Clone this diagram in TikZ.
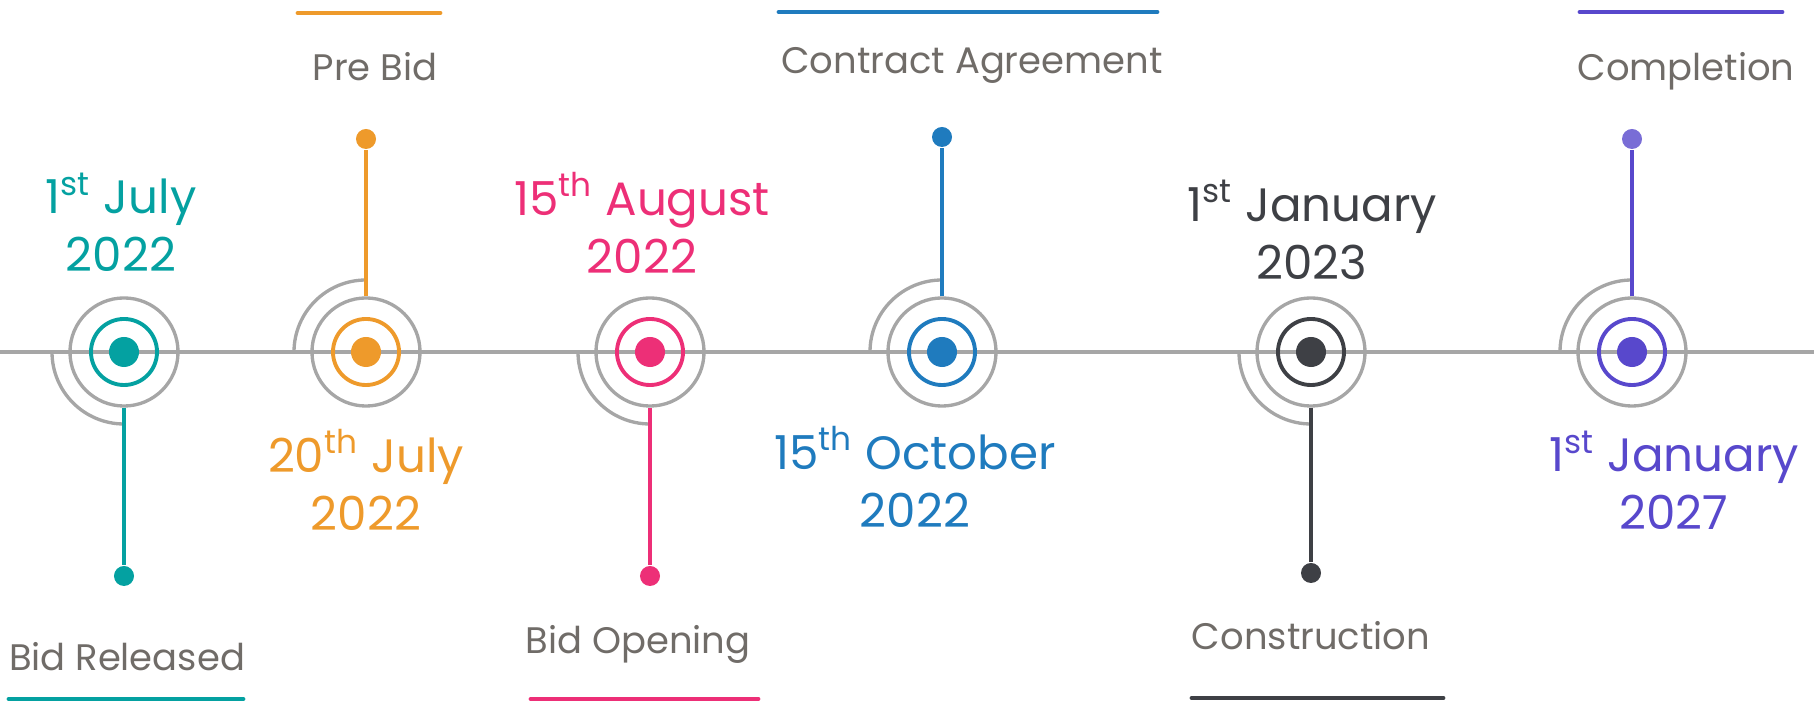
\documentclass[tikz,border=0pt]{standalone}
\usepackage{fontspec}
\setmainfont{Poppins}
\usepackage{tikz}
\usetikzlibrary{positioning}
\usetikzlibrary{calc}

\definecolor{tealc}{RGB}{4,161,161}
\definecolor{orangec}{RGB}{238,154,43}
\definecolor{pinkc}{RGB}{237,47,119}
\definecolor{bluec}{RGB}{31,123,190}
\definecolor{darkc}{RGB}{62,64,69}
\definecolor{purplec}{RGB}{88,72,204}
\definecolor{linegray}{RGB}{166,166,166}
\definecolor{textgray}{RGB}{112,108,104}

\begin{document}
\begin{tikzpicture}[x=0.01cm, y=0.01cm,
    ring/.style={circle, draw=linegray, line width=0.95pt, minimum size=1.08cm, inner sep=0pt},
    core/.style={circle, line width=1.1pt, minimum size=0.66cm, inner sep=0pt},
    hub/.style={circle, minimum size=0.30cm, inner sep=0pt},
    enddot/.style={circle, minimum size=0.20cm, inner sep=0pt},
    quarter/.style={draw=linegray, line width=0.95pt},
    stem/.style={line width=1pt},
    bar/.style={line width=1.4pt, line cap=round},
    msname/.style={text=textgray, anchor=base, font=\fontsize{10.5}{12}\selectfont},
    msdate/.style={align=center, font=\fontsize{13.3}{16.5}\selectfont}]

    \useasboundingbox (0,0) rectangle (1814,703);

    % timeline
    \coordinate (start) at (0,351);
    \coordinate (end) at (1814,351);
    \draw[linegray, line width=0.95pt] (start) -- (end);

    % bid released
    \coordinate (released) at (124,351);
    \node[ring] (released-ring) at (released) {};
    \node[core, draw=tealc] (released-core) at (released) {};
    \node[hub, fill=tealc] (released-hub) at (released) {};
    \draw[quarter] (released) ++(-72,0) arc[start angle=180, end angle=270, radius=72];
    \node[enddot, fill=tealc] (released-dot) at (124,127) {};
    \draw[stem, tealc] (released-ring.south) -- (released-dot);
    \node[msdate, text=tealc] (released-date) at (121,481) {1\textsuperscript{st} July\\2022};
    \node[msname] (released-name) at (127,32) {Bid Released};
    \draw[bar, tealc] (9,4) -- (243,4);

    % pre bid
    \coordinate (prebid) at (366,351);
    \node[ring] (prebid-ring) at (prebid) {};
    \node[core, draw=orangec] (prebid-core) at (prebid) {};
    \node[hub, fill=orangec] (prebid-hub) at (prebid) {};
    \draw[quarter] (prebid) ++(0,72) arc[start angle=90, end angle=180, radius=72];
    \node[enddot, fill=orangec] (prebid-dot) at (366,564) {};
    \draw[stem, orangec] (prebid-ring.north) -- (prebid-dot);
    \node[msdate, text=orangec] (prebid-date) at (366,223) {20\textsuperscript{th} July\\2022};
    \node[msname] (prebid-name) at (375,622) {Pre Bid};
    \draw[bar, orangec] (298,690) -- (440,690);

    % bid opening
    \coordinate (opening) at (650,351);
    \node[ring] (opening-ring) at (opening) {};
    \node[core, draw=pinkc] (opening-core) at (opening) {};
    \node[hub, fill=pinkc] (opening-hub) at (opening) {};
    \draw[quarter] (opening) ++(-72,0) arc[start angle=180, end angle=270, radius=72];
    \node[enddot, fill=pinkc] (opening-dot) at (650,127) {};
    \draw[stem, pinkc] (opening-ring.south) -- (opening-dot);
    \node[msdate, text=pinkc] (opening-date) at (642,480) {15\textsuperscript{th} August\\2022};
    \node[msname] (opening-name) at (638,49) {Bid Opening};
    \draw[bar, pinkc] (531,4) -- (758,4);

    % contract agreement
    \coordinate (contract) at (942,351);
    \node[ring] (contract-ring) at (contract) {};
    \node[core, draw=bluec] (contract-core) at (contract) {};
    \node[hub, fill=bluec] (contract-hub) at (contract) {};
    \draw[quarter] (contract) ++(0,72) arc[start angle=90, end angle=180, radius=72];
    \node[enddot, fill=bluec] (contract-dot) at (942,566) {};
    \draw[stem, bluec] (contract-ring.north) -- (contract-dot);
    \node[msdate, text=bluec] (contract-date) at (915,226) {15\textsuperscript{th} October\\2022};
    \node[msname] (contract-name) at (972,629) {Contract Agreement};
    \draw[bar, bluec] (779,691) -- (1157,691);

    % construction
    \coordinate (construction) at (1311,351);
    \node[ring] (construction-ring) at (construction) {};
    \node[core, draw=darkc] (construction-core) at (construction) {};
    \node[hub, fill=darkc] (construction-hub) at (construction) {};
    \draw[quarter] (construction) ++(-72,0) arc[start angle=180, end angle=270, radius=72];
    \node[enddot, fill=darkc] (construction-dot) at (1311,130) {};
    \draw[stem, darkc] (construction-ring.south) -- (construction-dot);
    \node[msdate, text=darkc] (construction-date) at (1312,473) {1\textsuperscript{st} January\\2023};
    \node[msname] (construction-name) at (1311,53) {Construction};
    \draw[bar, darkc] (1192,5) -- (1443,5);

    % completion
    \coordinate (completion) at (1632,351);
    \node[ring] (completion-ring) at (completion) {};
    \node[core, draw=purplec] (completion-core) at (completion) {};
    \node[hub, fill=purplec] (completion-hub) at (completion) {};
    \draw[quarter] (completion) ++(0,72) arc[start angle=90, end angle=180, radius=72];
    \node[enddot, fill=purplec, fill opacity=0.8] (completion-dot) at (1632,564) {};
    \draw[stem, purplec] (completion-ring.north) -- (completion-dot);
    \node[msdate, text=purplec] (completion-date) at (1674,223) {1\textsuperscript{st} January\\2027};
    \node[msname] (completion-name) at (1686,622) {Completion};
    \draw[bar, purplec] (1580,691) -- (1782,691);
\end{tikzpicture}
\end{document}
